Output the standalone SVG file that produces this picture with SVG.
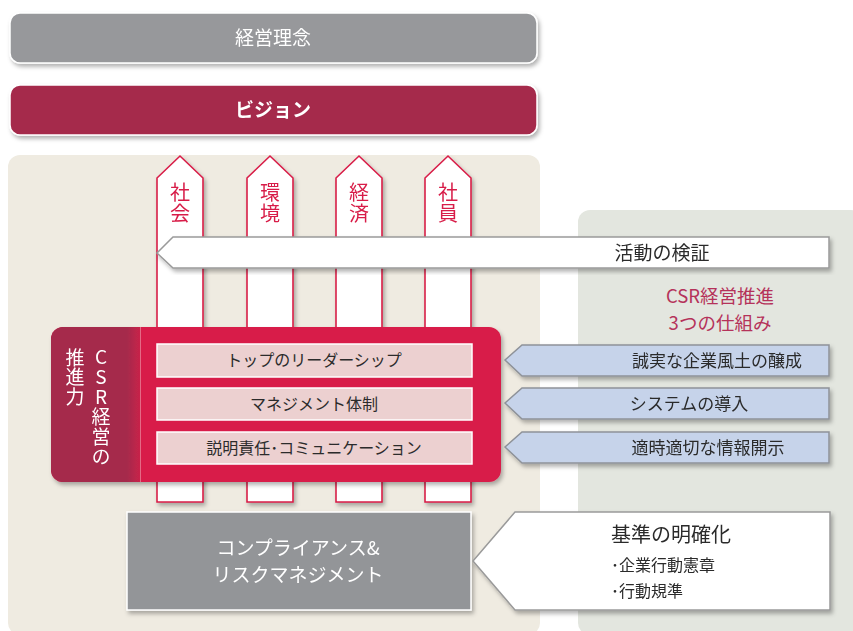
<svg xmlns="http://www.w3.org/2000/svg" width="853" height="631" viewBox="0 0 853 631">
<defs>
<filter id="sh" x="-10%" y="-10%" width="120%" height="130%"><feDropShadow dx="2" dy="3" stdDeviation="2" flood-color="#000" flood-opacity="0.3"/></filter>
<linearGradient id="band" x1="0" y1="0" x2="1" y2="0"><stop offset="0" stop-color="#a52a4c"/><stop offset="1" stop-color="#c8234a"/></linearGradient>
</defs>
<style>
text{font-family:"Noto Sans CJK JP","Noto Sans",sans-serif}
.wt{fill:#ffffff}
.dk{fill:#2b2b2b}
.pil{fill:#ffffff;stroke:#d81e48;stroke-width:1.6}
.vt{writing-mode:vertical-rl;text-orientation:upright}
.pt{fill:#d81e48;font-size:20px;letter-spacing:1px}
.blue{fill:#c6d3ea;stroke:#8e9299;stroke-width:1.5}
.pink{fill:#ecd0d0;stroke:#ffffff;stroke-width:1.5}
</style>
<rect width="853" height="631" fill="#ffffff"/>
<g id="panels">
<rect x="8" y="155" width="532" height="480" rx="12" fill="#efebe1"/>
<rect x="578" y="210" width="285" height="425" rx="12" fill="#e3e6df"/>
</g>
<g id="keiei-rinen" filter="url(#sh)">
<rect x="10" y="13" width="527" height="50" rx="10" fill="#97989b" stroke="#ffffff" stroke-width="1.5"/>
<text x="273" y="45" class="wt" font-size="19" text-anchor="middle">経営理念</text>
</g>
<g id="vision" filter="url(#sh)">
<rect x="10" y="85" width="527" height="50" rx="10" fill="#a52a4c" stroke="#ffffff" stroke-width="1.5"/>
<text x="273" y="117" class="wt" font-size="19" font-weight="bold" text-anchor="middle">ビジョン</text>
</g>
<g id="pillars" filter="url(#sh)">
<g id="p-shakai"><polygon class="pil" points="157,178 180,156 203,178 203,502 157,502"/><text class="pt vt" x="180" y="182">社会</text></g>
<g id="p-kankyo"><polygon class="pil" points="247,178 270,156 293,178 293,502 247,502"/><text class="pt vt" x="270" y="182">環境</text></g>
<g id="p-keizai"><polygon class="pil" points="336,178 359,156 382,178 382,502 336,502"/><text class="pt vt" x="359" y="182">経済</text></g>
<g id="p-shain"><polygon class="pil" points="425,178 448,156 471,178 471,502 425,502"/><text class="pt vt" x="448" y="182">社員</text></g>
</g>
<g id="kensho" filter="url(#sh)">
<polygon points="173,237 829,237 829,268 173,268 157,253" fill="#ffffff" stroke="#9a9a9a" stroke-width="1.5"/>
<text x="662" y="260" class="dk" font-size="19" text-anchor="middle">活動の検証</text>
</g>
<g id="csr-box" filter="url(#sh)">
<rect x="51" y="327" width="450" height="155" rx="12" fill="#d81e48"/>
<path d="M63,327 H127 V482 H63 A12,12 0 0 1 51,470 V339 A12,12 0 0 1 63,327 Z" fill="#a52a4c"/>
<rect x="127" y="327" width="13" height="155" fill="url(#band)"/>
<line x1="140.5" y1="327" x2="140.5" y2="482" stroke="#e46a85" stroke-width="1"/>
<text x="101" y="347" class="wt vt" font-size="19" letter-spacing="1">CSR経営の</text>
<text x="75" y="348" class="wt vt" font-size="19" letter-spacing="0.5">推進力</text>
</g>
<g id="inner-boxes">
<g id="top-leadership"><rect class="pink" x="157" y="344" width="315" height="33"/><text x="314" y="366" class="dk" font-size="16" text-anchor="middle">トップのリーダーシップ</text></g>
<g id="management"><rect class="pink" x="157" y="388" width="315" height="32"/><text x="314" y="410" class="dk" font-size="16" text-anchor="middle">マネジメント体制</text></g>
<g id="accountability"><rect class="pink" x="157" y="432" width="315" height="32"/><text x="314" y="454" class="dk" font-size="16" text-anchor="middle">説明責任･コミュニケーション</text></g>
</g>
<g id="csr-title">
<text x="720" y="303" fill="#b5325a" font-size="18.5" text-anchor="middle">CSR経営推進</text>
<text x="720" y="330" fill="#b5325a" font-size="18.5" text-anchor="middle">3つの仕組み</text>
</g>
<g id="blue-arrows" filter="url(#sh)">
<g id="b1"><polygon class="blue" points="522,345 829,345 829,376 522,376 505,360"/><text x="717" y="367" class="dk" font-size="17" text-anchor="middle">誠実な企業風土の醸成</text></g>
<g id="b2"><polygon class="blue" points="522,388 829,388 829,419 522,419 505,403"/><text x="689" y="410" class="dk" font-size="17" text-anchor="middle">システムの導入</text></g>
<g id="b3"><polygon class="blue" points="522,432 829,432 829,463 522,463 505,447"/><text x="708" y="454" class="dk" font-size="17" text-anchor="middle">適時適切な情報開示</text></g>
</g>
<g id="compliance" filter="url(#sh)">
<rect x="127" y="512" width="344" height="98" fill="#939598" stroke="#ffffff" stroke-width="1.5"/>
<text x="298" y="555" class="wt" font-size="19" text-anchor="middle">コンプライアンス&amp;</text>
<text x="298" y="582" class="wt" font-size="19" text-anchor="middle">リスクマネジメント</text>
</g>
<g id="kijun" filter="url(#sh)">
<polygon points="515,512 830,512 830,610 515,610 473,561" fill="#ffffff" stroke="#9a9a9a" stroke-width="1.5"/>
<text x="611" y="542" class="dk" font-size="20">基準の明確化</text>
<text x="611" y="571" class="dk" font-size="16">･企業行動憲章</text>
<text x="611" y="597" class="dk" font-size="16">･行動規準</text>
</g>
</svg>
